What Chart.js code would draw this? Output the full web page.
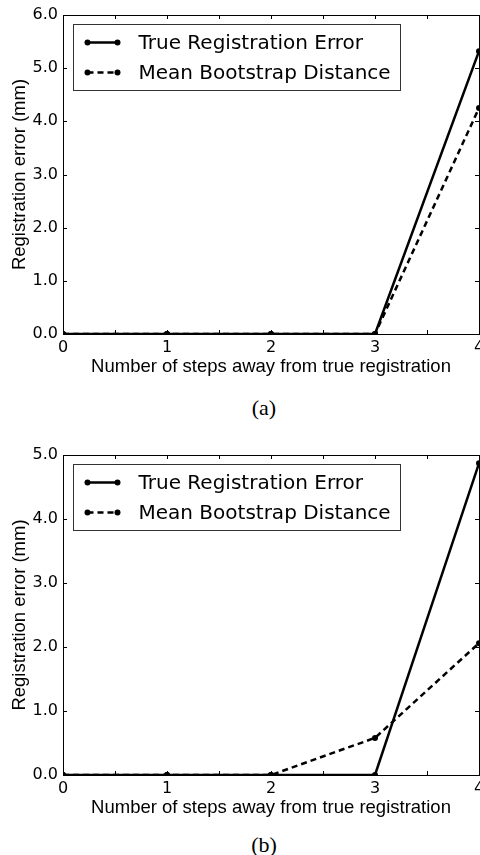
<!DOCTYPE html>
<html>
<head>
<meta charset="utf-8">
<script src="https://cdn.jsdelivr.net/npm/chart.js@4.4.1/dist/chart.umd.min.js"></script>
<style>
    html, body { margin: 0; padding: 0; background: #fff; overflow: hidden; width: 480px; height: 855px; }
    .wrap { position: absolute; left: 0; width: 490px; }
    .caption { position: absolute; left: 0; width: 528px; text-align: center; font-family: "Liberation Serif", serif; font-size: 22px; line-height: 24px; color: #000; }
</style>
</head>
<body>
<div class="wrap" style="top:0px;height:380px"><canvas id="chartA"></canvas></div>
<div class="caption" style="top:396px">(a)</div>
<div class="wrap" style="top:440px;height:381px"><canvas id="chartB"></canvas></div>
<div class="caption" style="top:833px">(b)</div>
<script>
const steps = [0, 1, 2, 3, 4];
const seriesNames = ['True Registration Error', 'Mean Bootstrap Distance'];

// panel (a)
const trueErrorA = [0, 0, 0, 0, 5.32];
const bootstrapA = [0, 0, 0, 0, 4.25];
// panel (b)
const trueErrorB = [0, 0, 0, 0, 4.87];
const bootstrapB = [0, 0, 0, 0.58, 2.06];

const yTitle = 'Registration error (mm)';
const xTitle = 'Number of steps away from true registration';

// box around the plot, ticks pointing inwards and a boxed legend (matplotlib look)
const axesPlugin = {
    id: 'axesLook',
    afterDatasetsDraw(chart) {
        const ctx = chart.ctx;
        const a = chart.chartArea;
        const xs = chart.scales.x;
        const ys = chart.scales.y;
        ctx.save();
        ctx.strokeStyle = '#000';
        ctx.lineWidth = 1;
        ctx.beginPath();
        xs.ticks.forEach(t => {
            const px = Math.round(xs.getPixelForValue(t.value)) + 0.5;
            ctx.moveTo(px, a.bottom); ctx.lineTo(px, a.bottom - 4);
            ctx.moveTo(px, a.top); ctx.lineTo(px, a.top + 4);
        });
        ys.ticks.forEach(t => {
            const py = Math.round(ys.getPixelForValue(t.value)) + 0.5;
            ctx.moveTo(a.left, py); ctx.lineTo(a.left + 4, py);
            ctx.moveTo(a.right, py); ctx.lineTo(a.right - 4, py);
        });
        ctx.stroke();
        ctx.strokeRect(Math.round(a.left) + 0.5, Math.round(a.top) + 0.5,
            Math.round(a.right - a.left), Math.round(a.bottom - a.top));
        ctx.restore();
    },
    afterDraw(chart) {
        const ctx = chart.ctx;
        const a = chart.chartArea;
        const bx = Math.round(a.left) + 10.5;
        const by = Math.round(a.top) + 9.5;
        ctx.save();
        ctx.fillStyle = '#fff';
        ctx.fillRect(bx, by, 327, 66);
        ctx.strokeStyle = '#333';
        ctx.lineWidth = 1;
        ctx.strokeRect(bx, by, 327, 66);
        chart.data.datasets.forEach((ds, i) => {
            const y = by + 18 + i * 30;
            ctx.strokeStyle = '#000';
            ctx.lineWidth = 2.5;
            ctx.setLineDash(ds.borderDash || []);
            ctx.beginPath();
            ctx.moveTo(bx + 14, y);
            ctx.lineTo(bx + 44, y);
            ctx.stroke();
            ctx.setLineDash([]);
            ctx.fillStyle = '#000';
            [bx + 14, bx + 44].forEach(px => {
                ctx.beginPath();
                ctx.arc(px, y, 3, 0, Math.PI * 2);
                ctx.fill();
            });
            ctx.font = '20px "DejaVu Sans"';
            ctx.textBaseline = 'middle';
            ctx.fillText(ds.label, bx + 65, y + 1);
        });
        ctx.restore();
    }
};

function makeChart(id, trueErr, boot, yMax) {
    const ctx = document.getElementById(id).getContext('2d');
    return new Chart(ctx, {
        type: 'line',
        data: {
            datasets: [{
                label: seriesNames[0],
                data: steps.map((s, i) => ({ x: s, y: trueErr[i] })),
                borderColor: '#000',
                backgroundColor: '#000',
                borderWidth: 2.5,
                pointRadius: 3,
                pointBorderWidth: 0,
                tension: 0
            }, {
                label: seriesNames[1],
                data: steps.map((s, i) => ({ x: s, y: boot[i] })),
                borderColor: '#000',
                backgroundColor: '#000',
                borderWidth: 2.5,
                borderDash: [6, 4],
                pointRadius: 3,
                pointBorderWidth: 0,
                tension: 0
            }]
        },
        options: {
            responsive: true,
            maintainAspectRatio: false,
            animation: false,
            layout: { padding: { top: 15, right: 11, left: 0, bottom: 0 } },
            plugins: { legend: { display: false }, tooltip: { enabled: false } },
            scales: {
                x: {
                    type: 'linear',
                    min: 0,
                    max: 4,
                    grid: { display: false, drawTicks: false },
                    border: { display: false },
                    afterFit: (scale) => { scale.height = 46; },
                    ticks: {
                        stepSize: 0.5,
                        padding: 4,
                        color: '#000',
                        maxRotation: 0,
                        autoSkip: false,
                        font: { family: '"DejaVu Sans"', size: 16 },
                        callback: (v) => Number.isInteger(v) ? String(v) : ''
                    },
                    title: {
                        display: true,
                        text: xTitle,
                        color: '#000',
                        padding: { top: 0, bottom: 2 },
                        font: { family: '"Liberation Sans"', size: 18.5 }
                    }
                },
                y: {
                    min: 0,
                    max: yMax,
                    grid: { display: false, drawTicks: false },
                    border: { display: false },
                    afterFit: (scale) => { scale.width = 63; },
                    ticks: {
                        stepSize: 1,
                        padding: 5,
                        color: '#000',
                        font: { family: '"DejaVu Sans"', size: 16 },
                        callback: (v) => v.toFixed(1)
                    },
                    title: {
                        display: true,
                        text: yTitle,
                        color: '#000',
                        padding: { top: 9, bottom: 0 },
                        font: { family: '"Liberation Sans"', size: 18.5 }
                    }
                }
            }
        },
        plugins: [axesPlugin]
    });
}

makeChart('chartA', trueErrorA, bootstrapA, 6);
makeChart('chartB', trueErrorB, bootstrapB, 5);
</script>
</body>
</html>
